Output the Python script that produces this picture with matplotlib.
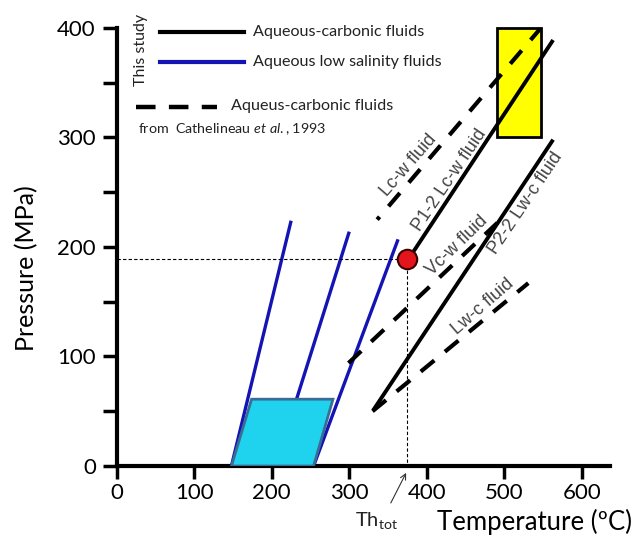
import matplotlib
matplotlib.use("Agg")
import matplotlib.pyplot as plt
from matplotlib.lines import Line2D

plt.rcParams['font.family'] = ['Lato', 'DejaVu Sans']
plt.rcParams['mathtext.fontset'] = 'custom'
plt.rcParams['mathtext.rm'] = 'Lato'
plt.rcParams['mathtext.it'] = 'Lato:italic'

# aqueous low salinity fluids (this study), blue isochores
blue_T = [[148, 225], [232, 300], [254, 363]]
blue_P = [[0, 224], [61, 214], [0, 207]]

# homogenisation / trapping field of the low salinity fluids
box_T = [148, 254, 279, 174]
box_P = [0, 0, 61, 61]

# aqueous-carbonic fluids, this study (solid)
p12_T = [383, 563]
p12_P = [196, 389]
p22_T = [331, 563]
p22_P = [51, 298]

# aqueous-carbonic fluids, Cathelineau et al. 1993 (dashed)
lcw_T = [336, 546]
lcw_P = [225, 399]
vcw_T = [299, 491]
vcw_P = [94, 222]
lwc_T = [330, 531]
lwc_P = [50, 167]

# yellow P-T window
win_T = [490, 547, 547, 490]
win_P = [300, 300, 400, 400]

# Th tot point
th_T = 375
th_P = 189

fig = plt.figure(figsize=(6.42, 5.43), dpi=100)
ax = fig.add_axes([116.7 / 642, 77 / 543, 493 / 642, 443.5 / 543])
ax.set_xlim(0, 636)
ax.set_ylim(0, 405)

for s in ['top', 'right']:
    ax.spines[s].set_visible(False)
for s in ['left', 'bottom']:
    ax.spines[s].set_linewidth(3)
ax.spines['left'].set_bounds(0, 400)

ax.set_xticks(range(0, 700, 100))
ax.set_yticks(range(0, 500, 100))
ax.set_yticks(range(50, 400, 100), minor=True)
ax.tick_params(axis='both', which='both', direction='out', width=2.5, labelsize=16)
ax.tick_params(axis='x', length=9, pad=3)
ax.tick_params(axis='y', which='both', length=10, pad=5)

# yellow window
ax.fill(win_T, win_P, facecolor='#ffff00', edgecolor='black', lw=2, zorder=1)

# blue isochores and field
for t, p in zip(blue_T, blue_P):
    ax.plot(t, p, color='#1414b4', lw=2.4, solid_capstyle='butt', zorder=2)
ax.fill(box_T, box_P, facecolor='#1fd3ef', edgecolor='#3a6d96', lw=2, zorder=3)

# solid black isochores
ax.plot(p12_T, p12_P, color='black', lw=2.8, solid_capstyle='butt', zorder=2)
ax.plot(p22_T, p22_P, color='black', lw=2.8, solid_capstyle='butt', zorder=2)

# dashed isochores
ax.plot(lcw_T, lcw_P, color='black', lw=3, linestyle=(3.3, (4.2, 3.3)), zorder=2)
ax.plot(vcw_T, vcw_P, color='black', lw=3, linestyle=(0, (4.2, 3.3)), zorder=2)
ax.plot(lwc_T, lwc_P, color='black', lw=3, linestyle=(0, (4.2, 3.3)), zorder=2)

# Th tot guide lines and point
ax.plot([0, th_T], [th_P, th_P], color='black', lw=0.8, linestyle=(0, (3, 2)), zorder=2)
ax.plot([th_T, th_T], [th_P, 0], color='black', lw=0.8, linestyle=(0, (3, 2)), zorder=2)
ax.plot([th_T], [th_P], 'o', ms=14, mfc='#e3141c', mec='#3a0000', mew=1.5, zorder=5)
ax.annotate('', xy=(th_T, -4), xytext=(352, -36),
            arrowprops=dict(arrowstyle='->', color='#333333', lw=0.8),
            annotation_clip=False)
ax.text(335, -50, r'Th$_{\rm tot}$', fontsize=14.5, ha='center', va='center', color='#222222')

# labels along isochores
lab_kw = dict(fontsize=13, color='#444444', ha='center', va='center',
              rotation_mode='anchor', family='Liberation Sans')
ax.text(376, 275, 'Lc-w fluid', rotation=49, **lab_kw)
ax.text(430, 261, 'P1-2 Lc-w fluid', rotation=56, **lab_kw)
ax.text(439, 201, 'Vc-w fluid', rotation=44, **lab_kw)
ax.text(527, 240, 'P2-2 Lw-c fluid', rotation=56, **lab_kw)
ax.text(472, 146, 'Lw-c fluid', rotation=41, **lab_kw)

fig.text(632 / 642, 1 - 522 / 543, 'Temperature (ºC)', fontsize=18.5, ha='right', va='center')
fig.text(27 / 642, 1 - 268 / 543, 'Pressure (MPa)', fontsize=18, rotation=90,
         ha='center', va='center')


# legend, built by hand in figure pixels
def fx(px):
    return px / 642


def fy(py):
    return 1 - py / 543


fig.add_artist(Line2D([fx(160), fx(244)], [fy(32), fy(32)], color='black', lw=3,
                      transform=fig.transFigure))
fig.add_artist(Line2D([fx(160), fx(244)], [fy(62), fy(62)], color='#1414b4', lw=3,
                      transform=fig.transFigure))
fig.add_artist(Line2D([fx(136), fx(217)], [fy(107), fy(107)], color='black', lw=3.2,
                      linestyle=(0, (4.4, 3.0)), transform=fig.transFigure))
fig.text(fx(141), fy(50), 'This study', rotation=90, fontsize=11.5, ha='center', va='center',
         color='#222222')
fig.text(fx(253), fy(32), 'Aqueous-carbonic fluids', fontsize=11.6, va='center', color='#222222')
fig.text(fx(253), fy(62), 'Aqueous low salinity fluids', fontsize=11.6, va='center',
         color='#222222')
fig.text(fx(231), fy(106), 'Aqueus-carbonic fluids', fontsize=11.6, va='center', color='#222222')
fig.text(fx(138), fy(129), r'from  Cathelineau $\mathit{et\ al.}$, 1993', fontsize=10.3,
         va='center', color='#222222')

fig.savefig('out.png', dpi=100)
